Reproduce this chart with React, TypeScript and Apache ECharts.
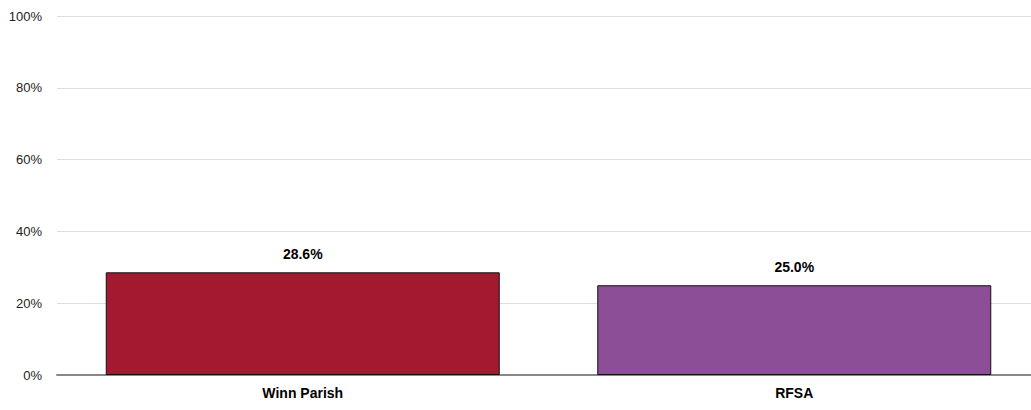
import React, { useEffect, useRef } from "react";
import * as echarts from "echarts";

const categories = ["Winn Parish", "RFSA"];
const values = [28.6, 25.0];
const barColors = ["#A31A30", "#8D4E98"];
const yTicks = [0, 20, 40, 60, 80, 100];

const FONT = "'Liberation Sans Narrow', 'Arial Narrow', 'Liberation Sans', Arial, sans-serif";

export default function App() {
  const ref = useRef<HTMLDivElement>(null);
  useEffect(() => {
    if (!ref.current) return;
    const chart = echarts.init(ref.current, undefined, { renderer: "svg" });
    chart.setOption({
      animation: false,
      grid: { left: 57, top: 16, right: 0, bottom: 35, containLabel: false },
      xAxis: {
        type: "category",
        data: categories,
        axisTick: { show: false },
        axisLine: { show: true, lineStyle: { color: "#888888", width: 2 } },
        axisLabel: { color: "#000", fontFamily: FONT, fontWeight: "bold", fontSize: 14, margin: 11 },
      },
      yAxis: {
        type: "value",
        min: yTicks[0],
        max: yTicks[yTicks.length - 1],
        interval: 20,
        axisLine: { show: false },
        axisTick: { show: false },
        splitLine: { lineStyle: { color: "#DDDDDD", width: 1 } },
        axisLabel: { color: "#222", fontFamily: FONT, fontSize: 13, margin: 15, formatter: "{value}%" },
      },
      series: [
        {
          type: "bar",
          barWidth: 394,
          data: values.map((v, i) => ({
            value: v,
            itemStyle: { color: barColors[i], borderColor: "#111", borderWidth: 1 },
          })),
          label: {
            show: true,
            position: "top",
            distance: 11,
            color: "#000",
            fontFamily: FONT,
            fontWeight: "bold",
            fontSize: 14,
            formatter: (p: any) => p.value.toFixed(1) + "%",
          },
        },
      ],
    });
    return () => chart.dispose();
  }, []);
  return <div ref={ref} style={{ position: "fixed", left: 0, top: 0, width: 1040, height: 410, background: "#fff" }} />;
}
